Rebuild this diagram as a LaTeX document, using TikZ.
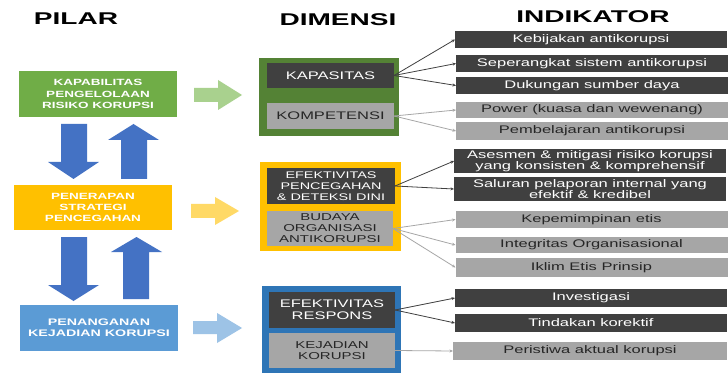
\documentclass[tikz,border=0pt]{standalone}
\usepackage{fontspec}
\setmainfont{Liberation Sans}
\newfontfamily\wf{Liberation Sans}[FakeStretch=1.5]
\newfontfamily\wbf{Liberation Sans Bold}[FakeStretch=1.5]
\newfontfamily\tbf{Liberation Sans Bold}[FakeStretch=1.65]
\usetikzlibrary{arrows.meta}
\definecolor{pgreen}{HTML}{70AD47}
\definecolor{pyellow}{HTML}{FFC000}
\definecolor{pblue}{HTML}{5B9BD5}
\definecolor{dgreen}{HTML}{548235}
\definecolor{dblue}{HTML}{2E75B6}
\definecolor{arrblue}{HTML}{4472C4}
\definecolor{lgreen}{HTML}{A9D18E}
\definecolor{lyellow}{HTML}{FFD966}
\definecolor{lblue}{HTML}{9DC3E6}
\definecolor{darkbox}{HTML}{404040}
\definecolor{graybox}{HTML}{A6A6A6}
\definecolor{graytext}{HTML}{262626}
\begin{document}
\begin{tikzpicture}[x=1pt,y=-1pt,
  every node/.style={inner sep=0pt,outer sep=0pt},
  title/.style={font=\tbf\fontsize{17}{17}\selectfont,text=black},
  pbox/.style={rectangle,minimum width=158pt,minimum height=46pt,align=center,text=white,font=\wbf\fontsize{9}{11.5}\selectfont},
  frame/.style={rectangle},
  dbox/.style={rectangle,fill=darkbox,text=white,align=center,minimum width=127pt},
  gbox/.style={rectangle,fill=graybox,text=graytext,align=center,minimum width=127pt},
  ind/.style={rectangle,minimum width=272pt,align=center,font=\wf\fontsize{11}{11}\selectfont},
  idark/.style={ind,fill=darkbox,text=white},
  igray/.style={ind,fill=graybox,text=graytext},
  dconn/.style={draw=darkbox,line width=0.8pt,-{Stealth[length=3.5pt,width=3pt]}},
  gconn/.style={draw=graybox,line width=0.8pt,-{Stealth[length=3.5pt,width=3pt]}}
]
\useasboundingbox (0,0) rectangle (728,374);
\fill[white] (0,0) rectangle (728,374);

% titles
\node[title] (tpilar) at (76,19) {PILAR};
\node[title] (tdim) at (338,20) {DIMENSI};
\node[title] (tind) at (593,17) {INDIKATOR};

% pilar boxes
\node[pbox,fill=pgreen] (p1) at (98,94) {KAPABILITAS\\PENGELOLAAN\\RISIKO KORUPSI};
\node[pbox,fill=pyellow,minimum height=45pt,font=\wbf\fontsize{9}{11}\selectfont] (p2) at (93,207.5) {PENERAPAN\\STRATEGI\\PENCEGAHAN};
\node[pbox,fill=pblue,font=\wbf\fontsize{9.5}{11}\selectfont] (p3) at (99,328) {PENANGANAN\\KEJADIAN KORUPSI};

% vertical block arrows
\fill[arrblue] (61,124)--(87,124)--(87,162)--(99,162)--(73.5,179)--(48,162)--(61,162)--cycle;
\fill[arrblue] (133.5,124)--(159,140)--(147,140)--(147,179)--(121,179)--(121,140)--(108,140)--cycle;
\fill[arrblue] (61,237)--(87,237)--(87,285)--(99,285)--(73.5,301)--(48,285)--(61,285)--cycle;
\fill[arrblue] (136.5,237)--(162,252)--(149,252)--(149,299)--(123,299)--(123,252)--(111,252)--cycle;

% right block arrows
\fill[lgreen] (194,88)--(218,88)--(218,80)--(242,95)--(218,110)--(218,102)--(194,102)--cycle;
\fill[lyellow] (191,204)--(215,204)--(215,197)--(239,211)--(215,225)--(215,218)--(191,218)--cycle;
\fill[lblue] (193,321)--(217,321)--(217,313)--(242,328)--(217,343)--(217,334)--(193,334)--cycle;

% dimensi frames
\node[frame,fill=dgreen,minimum width=140pt,minimum height=78pt] (fg) at (329,97) {};
\node[frame,fill=pyellow,minimum width=141pt,minimum height=89pt] (fy) at (330.5,206.5) {};
\node[frame,fill=dblue,minimum width=139pt,minimum height=87pt] (fb) at (331.5,329.5) {};

% dimensi boxes
\node[dbox,minimum height=25pt,font=\wf\fontsize{11}{11}\selectfont] (kap) at (330.5,75.5) {KAPASITAS};
\node[gbox,minimum height=26pt,font=\wf\fontsize{11}{11}\selectfont] (kom) at (330.5,116) {KOMPETENSI};
\node[dbox,minimum width=128pt,minimum height=36pt,font=\wf\fontsize{9.6}{11}\selectfont] (efp) at (331,186) {EFEKTIVITAS\\PENCEGAHAN\\\& DETEKSI DINI};
\node[gbox,minimum width=126pt,minimum height=35pt,font=\wf\fontsize{10}{11}\selectfont] (bud) at (330,228.5) {BUDAYA\\ORGANISASI\\ANTIKORUPSI};
\node[dbox,minimum width=126pt,minimum height=36pt,font=\wf\fontsize{11}{12}\selectfont] (efr) at (332,310) {EFEKTIVITAS\\RESPONS};
\node[gbox,minimum width=126pt,minimum height=35pt,font=\wf\fontsize{10}{10.5}\selectfont] (kej) at (332,350.5) {KEJADIAN\\KORUPSI};

% indikator boxes
\node[idark,minimum height=17pt] (i1) at (591,39.5) {Kebijakan antikorupsi};
\node[idark,minimum height=17pt] (i2) at (592,63.5) {Seperangkat sistem antikorupsi};
\node[idark,minimum height=17pt] (i3) at (592,85.5) {Dukungan sumber daya};
\node[igray,minimum height=16pt] (i4) at (592,110) {Power (kuasa dan wewenang)};
\node[igray,minimum height=18pt] (i5) at (592,131) {Pembelajaran antikorupsi};
\node[idark,minimum height=24pt] (i6) at (590,161) {Asesmen \& mitigasi risiko korupsi\\yang konsisten \& komprehensif};
\node[idark,minimum height=24pt] (i7) at (590,189) {Saluran pelaporan internal yang\\efektif \& kredibel};
\node[igray,minimum height=17pt] (i8) at (591.5,219.5) {Kepemimpinan etis};
\node[igray,minimum height=16pt] (i9) at (591.5,245) {Integritas Organisasional};
\node[igray,minimum height=19pt] (i10) at (591.5,267.5) {Iklim Etis Prinsip};
\node[idark,minimum height=18pt] (i11) at (591,298) {Investigasi};
\node[idark,minimum height=18pt] (i12) at (591,323) {Tindakan korektif};
\node[igray,minimum height=18pt,minimum width=274pt] (i13) at (590,351) {Peristiwa aktual korupsi};

% connectors
\draw[dconn] (kap.east) -- (i1.west);
\draw[dconn] (kap.east) -- (i2.west);
\draw[dconn] (kap.east) -- (i3.west);
\draw[gconn] (kom.east) -- (i4.west);
\draw[gconn] (kom.east) -- (i5.west);
\draw[dconn] (efp.east) -- (i6.west);
\draw[dconn] (efp.east) -- (i7.west);
\draw[gconn] (bud.east) -- (i8.west);
\draw[gconn] (bud.east) -- (i9.west);
\draw[gconn] (bud.east) -- (i10.west);
\draw[dconn] (efr.east) -- (i11.west);
\draw[dconn] (efr.east) -- (i12.west);
\draw[gconn] (kej.east) -- (i13.west);
\end{tikzpicture}
\end{document}
